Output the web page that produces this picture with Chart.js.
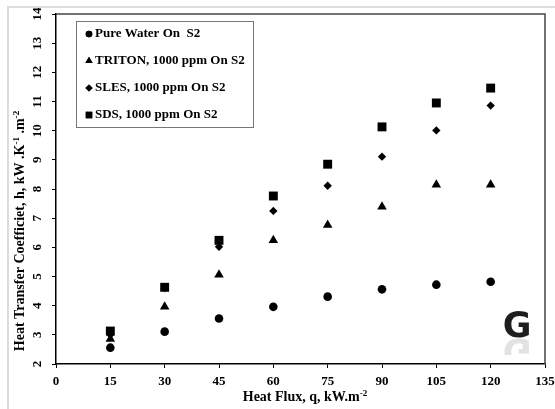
<!DOCTYPE html>
<html>
<head>
<meta charset="utf-8">
<script src="https://cdn.jsdelivr.net/npm/chart.js@4.4.1/dist/chart.umd.min.js"></script>
<style>
  html, body { margin: 0; padding: 0; background: #fff; }
  #wrap { position: relative; width: 555px; height: 409px; overflow: hidden; }
  #frame { position: absolute; left: 7px; top: 6px; width: 560px; height: 420px; border: 2px solid #dcdcdc; box-sizing: border-box; pointer-events: none; }
</style>
</head>
<body>
<div id="wrap">
  <canvas id="chart" width="555" height="409"></canvas>
  <div id="frame"></div>
</div>
<script>
const heatFlux = [15, 30, 45, 60, 75, 90, 105, 120];
const pureWater = [2.56, 3.11, 3.56, 3.96, 4.31, 4.56, 4.72, 4.82];
const triton = [2.86, 3.96, 5.06, 6.24, 6.77, 7.39, 8.15, 8.15];
const sles = [3.0, 4.6, 6.02, 7.25, 8.11, 9.11, 10.01, 10.86];
const sds = [3.13, 4.63, 6.24, 7.76, 8.85, 10.13, 10.95, 11.46];

const seriesNames = ["Pure Water On  S2", "TRITON, 1000 ppm On S2", "SLES, 1000 ppm On S2", "SDS, 1000 ppm On S2"];
const xTicks = [0, 15, 30, 45, 60, 75, 90, 105, 120, 135];
const yTicks = [2, 3, 4, 5, 6, 7, 8, 9, 10, 11, 12, 13, 14];

const serif = "'Liberation Serif', 'Times New Roman', serif";

function toPoints(vals) {
  return vals.map((v, i) => ({ x: heatFlux[i], y: v }));
}

// draws text pieces, some of them superscript
function drawRich(ctx, parts, size) {
  let total = 0;
  parts.forEach(p => {
    ctx.font = `bold ${p.sup ? size * 0.65 : size}px ${serif}`;
    p.w = ctx.measureText(p.t).width;
    total += p.w;
  });
  let x = -total / 2;
  parts.forEach(p => {
    ctx.font = `bold ${p.sup ? size * 0.65 : size}px ${serif}`;
    ctx.fillText(p.t, x, p.sup ? -size * 0.38 : 0);
    x += p.w;
  });
}

const extras = {
  id: "extras",
  afterDraw(chart) {
    const { ctx, chartArea } = chart;
    ctx.save();
    // top and right frame of the plot
    ctx.strokeStyle = "#444";
    ctx.lineWidth = 1.5;
    ctx.beginPath();
    ctx.moveTo(chartArea.left, chartArea.top);
    ctx.lineTo(chartArea.right, chartArea.top);
    ctx.lineTo(chartArea.right, chartArea.bottom);
    ctx.stroke();

    ctx.fillStyle = "#000";
    ctx.textBaseline = "alphabetic";
    // x title
    ctx.save();
    ctx.translate(305, 401);
    drawRich(ctx, [{ t: "Heat Flux, q, kW.m" }, { t: "-2", sup: true }], 14);
    ctx.restore();
    // y title
    ctx.save();
    ctx.translate(24, 231);
    ctx.rotate(-Math.PI / 2);
    drawRich(ctx, [{ t: "Heat Transfer Coefficiet, h, kW .K" }, { t: "-1", sup: true }, { t: " .m" }, { t: "-2", sup: true }], 14);
    ctx.restore();

    // legend box
    const lx = 76, ly = 21, lw = 177, lh = 106;
    ctx.fillStyle = "#fff";
    ctx.fillRect(lx, ly, lw, lh);
    ctx.strokeStyle = "#777";
    ctx.lineWidth = 1;
    ctx.strokeRect(lx + 0.5, ly + 0.5, lw, lh);
    const rows = [34, 61, 88, 115];
    chart.data.datasets.forEach((ds, i) => {
      const mx = 89, my = rows[i];
      ctx.fillStyle = "#000";
      const r = { circle: 3.3, triangle: 4.2, rectRot: 3.6, rect: 4.6 }[ds.pointStyle];
      Chart.helpers.drawPoint(ctx, { pointStyle: ds.pointStyle, radius: r, borderWidth: 0 }, mx, my);
      ctx.fill();
      ctx.font = `bold 13px ${serif}`;
      ctx.textBaseline = "middle";
      ctx.textAlign = "left";
      ctx.fillText(ds.label, 95, my);
    });

    // G logo with a faint mirror
    ctx.textAlign = "center";
    ctx.textBaseline = "alphabetic";
    ctx.font = "bold 35px 'DejaVu Sans', sans-serif";
    ctx.fillStyle = "#1e1e1e";
    ctx.fillText("G", 517, 337);
    ctx.save();
    ctx.beginPath();
    ctx.rect(495, 338, 45, 17);
    ctx.clip();
    ctx.translate(0, 676);
    ctx.scale(1, -1);
    ctx.globalAlpha = 0.13;
    ctx.fillText("G", 517, 337);
    ctx.restore();
    ctx.restore();
  }
};

const makeSet = (label, vals, style, radius, order) => ({
  label,
  data: toPoints(vals),
  pointStyle: style,
  pointRadius: radius,
  pointHoverRadius: radius,
  backgroundColor: "#000",
  borderColor: "#000",
  borderWidth: 0,
  order
});

new Chart(document.getElementById("chart"), {
  type: "scatter",
  data: {
    datasets: [
      makeSet(seriesNames[0], pureWater, "circle", 4.3, 3),
      makeSet(seriesNames[1], triton, "triangle", 5.5, 2),
      makeSet(seriesNames[2], sles, "rectRot", 4.2, 1),
      makeSet(seriesNames[3], sds, "rect", 6.3, 0)
    ]
  },
  options: {
    responsive: false,
    animation: false,
    layout: { padding: { left: 0, top: 14, right: 10, bottom: 0 } },
    plugins: { legend: { display: false }, tooltip: { enabled: false } },
    scales: {
      x: {
        type: "linear",
        min: 0, max: 135,
        afterBuildTicks: s => { s.ticks = xTicks.map(v => ({ value: v })); },
        afterFit: s => { s.height = 45; s.paddingLeft = 0; s.paddingRight = 0; },
        ticks: { color: "#000", font: { family: serif, size: 13, weight: "bold" }, padding: 6, maxRotation: 0 },
        grid: { drawOnChartArea: false, drawTicks: true, tickLength: 4, color: "#000" },
        border: { color: "#000", width: 1.5 }
      },
      y: {
        type: "linear",
        min: 2, max: 14,
        afterBuildTicks: s => { s.ticks = yTicks.map(v => ({ value: v })); },
        afterFit: s => { s.width = 56; s.paddingTop = 0; s.paddingBottom = 0; },
        ticks: { color: "#000", font: { family: serif, size: 13, weight: "bold" }, padding: 8, minRotation: 90, maxRotation: 90, crossAlign: "center" },
        grid: { drawOnChartArea: false, drawTicks: true, tickLength: 4, color: "#000" },
        border: { color: "#000", width: 1.5 }
      }
    }
  },
  plugins: [extras]
});
</script>
</body>
</html>
